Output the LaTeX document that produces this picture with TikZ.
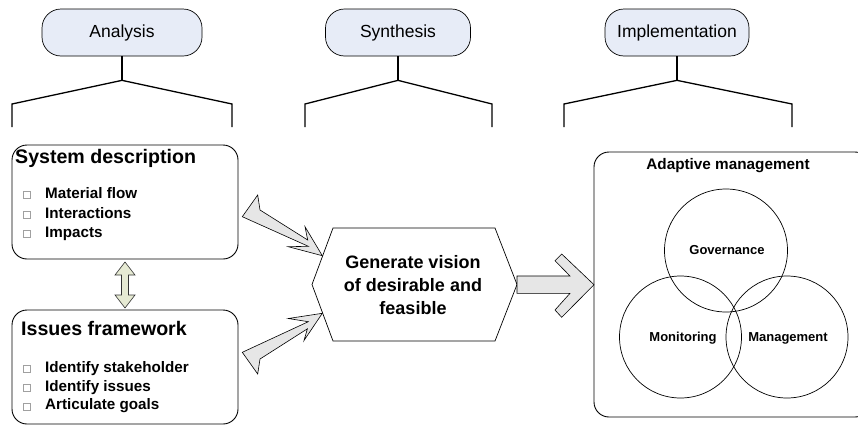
\documentclass[tikz,border=0pt]{standalone}
\usepackage{fontspec}
\setmainfont{Liberation Sans}
\definecolor{phasefill}{RGB}{231,236,247}
\definecolor{arrowfill}{RGB}{230,230,230}
\definecolor{linkfill}{RGB}{230,234,211}
\definecolor{bulletgray}{RGB}{160,160,160}
\begin{document}
\begin{tikzpicture}[x=1pt,y=-1pt,
  phase/.style={draw=black, line width=0.7pt, fill=phasefill, rounded corners=19pt,
    minimum height=47pt, inner sep=0pt, font=\fontsize{17.5}{20}\selectfont},
  bracket/.style={line width=1.3pt, line join=miter},
  panel/.style={draw=black, line width=0.9pt, rounded corners=15pt, inner sep=0pt},
  paneltitle/.style={anchor=base west, inner sep=0pt, font=\fontsize{19.6}{22}\selectfont\bfseries},
  item/.style={anchor=base west, inner sep=0pt, font=\fontsize{15.2}{18}\selectfont\bfseries},
  bulletbox/.style={draw=bulletgray, line width=0.5pt, fill=white},
  blockarrow/.style={draw=black, line width=0.6pt, fill=arrowfill, line join=miter},
  ring/.style={draw=black, line width=0.7pt},
  ringlabel/.style={inner sep=0pt, font=\fontsize{13}{15}\selectfont\bfseries},
]
\useasboundingbox (0,0) rectangle (858,426);
\clip (0,0) rectangle (858,426);
\fill[white] (0,0) rectangle (858,426);

% ---- phase headers with their brackets ----
\node[phase, minimum width=160pt] (analysis) at (122,32.5) {Analysis};
\node[phase, minimum width=145pt] (synthesis) at (398,32.5) {Synthesis};
\node[phase, minimum width=144pt] (implementation) at (677,32.5) {Implementation};

\foreach \p/\l/\r in {analysis/12/232, synthesis/305/492, implementation/564/792}{
  \draw[bracket] (\p.south) -- ++(0,24) coordinate (\p-fork);
  \draw[bracket] (\l,127) -- (\l,104) -- (\p-fork) -- (\r,104) -- (\r,127);
}

% ---- analysis panels ----
\node[panel, minimum width=226pt, minimum height=114pt] (sysbox) at (125,202) {};
\node[paneltitle] (systitle) at (15,163) {System description};
\foreach \y/\t/\n in {198.5/Material flow/s1, 218/Interactions/s2, 237.5/Impacts/s3}{
  \draw[bulletbox] (23,\y-7) rectangle (30,\y);
  \node[item] (\n) at (45,\y) {\t};
}

\node[panel, minimum width=226pt, minimum height=114pt] (issbox) at (125,367) {};
\node[paneltitle] (isstitle) at (21,335) {Issues framework};
\foreach \y/\t/\n in {372.5/Identify stakeholder/i1, 391.2/Identify issues/i2, 409.9/Articulate goals/i3}{
  \draw[bulletbox] (23,\y-7) rectangle (30,\y);
  \node[item] (\n) at (45,\y) {\t};
}

% two-way link between the panels
\draw[draw=black!80, line width=0.6pt, fill=linkfill]
  (125,262) -- (135,275) -- (128.5,275) -- (128.5,295) -- (135,295) -- (125,308)
  -- (115,295) -- (121.5,295) -- (121.5,275) -- (115,275) -- cycle;

% ---- synthesis hexagon ----
\coordinate (visionW) at (312,284.5);
\coordinate (visionE) at (517,284.5);
\draw[line width=0.7pt, fill=white]
  (visionW) -- (333,228) -- (495,228) -- (visionE) -- (495,341) -- (333,341) -- cycle;
\node[inner sep=0pt, align=center, font=\fontsize{18}{23}\selectfont\bfseries]
  (vision) at (413,285) {Generate vision\\of desirable and\\feasible};

% jagged arrows into the hexagon
\draw[blockarrow]
  (322.3,255.7) -- (305,226.7) -- (307.7,240) -- (260,210) -- (257.7,195)
  -- (242.3,216.7) -- (308.3,246.3) -- (288.3,246.7) -- cycle;
\draw[blockarrow]
  (322.3,313.3) -- (288.3,318.5) -- (308.3,321.7) -- (242.3,352.3) -- (257.7,374)
  -- (260,359) -- (307.4,328.8) -- (304,340.5) -- cycle;

% arrow from the hexagon to the implementation panel
\draw[blockarrow]
  (visionE |- 0,276) -- (570,276) -- (555,260.7) -- (561.7,254) -- (594,284.7)
  -- (561.7,317.3) -- (555,310) -- (570,293.3) -- (visionE |- 0,293.3) -- cycle;

% ---- implementation panel ----
\draw[line width=0.9pt, rounded corners=15pt] (594,152) rectangle (870,417);
\node[inner sep=0pt, font=\fontsize{15.3}{18}\selectfont\bfseries] (adaptive) at (728,166) {Adaptive management};
\draw[ring] (726,250.5) circle (61.5);
\draw[ring] (680.5,337) circle (61);
\draw[ring] (787,337) circle (61);
\node[ringlabel] (gov) at (727,250) {Governance};
\node[ringlabel] (mon) at (683,338) {Monitoring};
\node[ringlabel] (man) at (788,338) {Management};
\end{tikzpicture}
\end{document}
